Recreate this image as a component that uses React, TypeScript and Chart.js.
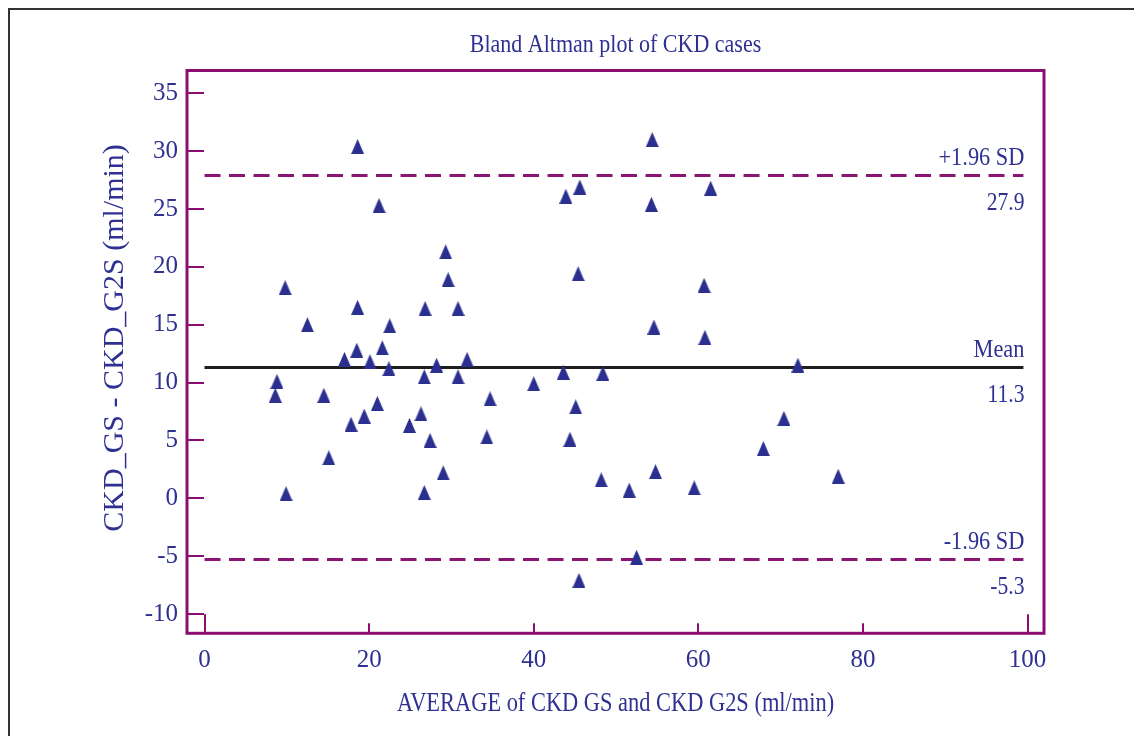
import React, { useEffect, useRef } from 'react';
import { Chart, registerables } from 'chart.js';

Chart.register(...registerables);

// ---- Data ----
const averageValues = [
  8.6, 8.8, 9.8, 9.9, 12.5, 14.5, 15.1, 17.0, 17.8, 18.6,
  18.6, 18.5, 19.4, 20.1, 21.0, 21.2, 21.6, 22.5, 22.4, 24.9,
  26.3, 26.8, 26.7, 26.7, 27.4, 28.2, 29.0, 29.3, 29.6, 30.8,
  30.8, 31.9, 34.7, 34.3, 40.0, 43.6, 43.9, 44.4, 45.1, 45.4,
  45.6, 45.5, 48.4, 48.2, 51.6, 52.5, 54.4, 54.3, 54.6, 54.8,
  59.5, 60.7, 60.8, 61.5, 67.9, 70.4, 72.1, 77.0,
];
const differenceValues = [
  8.9, 10.1, 18.2, 0.4, 15.0, 8.9, 3.5, 12.0, 6.4, 30.4,
  16.5, 12.8, 7.1, 11.8, 8.2, 25.3, 13.0, 14.9, 11.2, 6.3,
  7.3, 16.4, 10.5, 0.5, 5.0, 11.5, 2.2, 21.3, 18.9, 16.4,
  10.5, 12.0, 8.6, 5.3, 9.9, 10.9, 26.1, 5.1, 7.9, 19.4,
  26.9, -7.1, 10.8, 1.6, 0.7, -5.1, 31.0, 25.4, 14.8, 2.3,
  0.9, 18.4, 13.9, 26.8, 4.3, 6.9, 11.5, 1.9,
];
const meanDifference = 11.3;
const upperLimit = 27.9;
const lowerLimit = -5.3;
const limitLineX = [0, 99.5];
const limitValues = [upperLimit, meanDifference, lowerLimit];
const limitNames = ['+1.96 SD', 'Mean', '-1.96 SD'];
const limitTexts = ['27.9', '11.3', '-5.3'];
const longTickValues = [0, 100];

const chartTitle = 'Bland Altman plot of CKD cases';
const xTitle = 'AVERAGE of CKD GS and CKD G2S (ml/min)';
const yTitle = 'CKD_GS - CKD_G2S (ml/min)';

// ---- Styles ----
const TEXT = '#2E3192';
const FRAME = '#8B0D71';
const DASH = '#8B1573';
const FONT = "'Liberation Serif', 'Times New Roman', serif";

function makeTriangle(): HTMLCanvasElement {
  const c = document.createElement('canvas');
  c.width = 13;
  c.height = 15;
  const g = c.getContext('2d')!;
  g.fillStyle = '#2B3090';
  g.beginPath();
  g.moveTo(6.5, 0);
  g.lineTo(13, 15);
  g.lineTo(0, 15);
  g.closePath();
  g.fill();
  return c;
}

// draws text horizontally condensed (the reference uses a narrow serif face)
function condensedText(ctx: CanvasRenderingContext2D, text: string, x: number, y: number, factor: number) {
  const w = ctx.measureText(text).width;
  ctx.fillText(text, x, y, w * factor);
}

const framePlugin = {
  id: 'baFrame',
  afterDatasetsDraw(chart: any) {
    const { ctx, chartArea, scales, height } = chart;
    const { left, right, top, bottom } = chartArea;
    const xs = scales.x;
    const ys = scales.y;
    const cx = (left + right) / 2;
    ctx.save();
    ctx.fillStyle = TEXT;
    ctx.textBaseline = 'alphabetic';

    // chart title
    ctx.font = `25px ${FONT}`;
    ctx.textAlign = 'center';
    condensedText(ctx, chartTitle, cx, top - 19, 0.88);

    // x axis title
    ctx.font = `27px ${FONT}`;
    condensedText(ctx, xTitle, cx, height - 25, 0.83);

    // y axis title
    ctx.save();
    ctx.translate(left - 64, (top + bottom) / 2 - 14);
    ctx.rotate(-Math.PI / 2);
    ctx.font = `30px ${FONT}`;
    ctx.fillText(yTitle, 0, 0);
    ctx.restore();

    // line labels
    ctx.font = `26px ${FONT}`;
    ctx.textAlign = 'right';
    const lx = xs.getPixelForValue(limitLineX[1]) + 1;
    limitValues.forEach((v, i) => {
      const py = ys.getPixelForValue(v);
      condensedText(ctx, limitNames[i], lx, py - 10.5, 0.86);
      condensedText(ctx, limitTexts[i], lx, py + 34.5, 0.83);
    });

    // ticks
    ctx.strokeStyle = FRAME;
    ctx.lineWidth = 2;
    ctx.beginPath();
    ys.ticks.forEach((t: any) => {
      const py = Math.round(ys.getPixelForValue(t.value));
      ctx.moveTo(left, py);
      ctx.lineTo(left + 17, py);
    });
    xs.ticks.forEach((t: any) => {
      const px = Math.round(xs.getPixelForValue(t.value));
      const len = longTickValues.includes(t.value) ? 19 : 10;
      ctx.moveTo(px, bottom);
      ctx.lineTo(px, bottom - len);
    });
    ctx.stroke();
    // frame
    ctx.lineWidth = 3;
    ctx.lineJoin = 'miter';
    ctx.strokeRect(left, top, right - left, bottom - top);
    ctx.restore();
  },
};

export default function App() {
  const ref = useRef<HTMLCanvasElement | null>(null);

  useEffect(() => {
    if (!ref.current) return;
    const tri = makeTriangle();
    const points = averageValues.map((x, i) => ({ x, y: differenceValues[i] }));
    const lineData = (v: number) => limitLineX.map((x) => ({ x, y: v }));

    const chart = new Chart(ref.current, {
      type: 'scatter',
      data: {
        datasets: [
          {
            type: 'scatter',
            label: 'Cases',
            data: points,
            pointStyle: tri as any,
            pointRadius: 7,
            order: 0,
          },
          {
            type: 'line',
            label: 'Mean',
            data: lineData(meanDifference),
            borderColor: '#1E1E1E',
            borderWidth: 3,
            pointRadius: 0,
            fill: false,
            order: 1,
          },
          {
            type: 'line',
            label: '+1.96 SD',
            data: lineData(upperLimit),
            borderColor: DASH,
            borderWidth: 3,
            borderDash: [16, 8.5],
            pointRadius: 0,
            fill: false,
            order: 1,
          },
          {
            type: 'line',
            label: '-1.96 SD',
            data: lineData(lowerLimit),
            borderColor: DASH,
            borderWidth: 3,
            borderDash: [16, 8.5],
            pointRadius: 0,
            fill: false,
            order: 1,
          },
        ],
      },
      options: {
        responsive: false,
        animation: false,
        layout: { padding: { top: 60.5, right: 90, bottom: 0, left: 0 } },
        plugins: {
          legend: { display: false },
          tooltip: { enabled: false },
          title: { display: false },
        },
        scales: {
          x: {
            type: 'linear',
            min: -2.13,
            max: 102,
            grid: { display: false, drawTicks: false },
            border: { display: false },
            ticks: {
              stepSize: 20,
              includeBounds: false,
              color: TEXT,
              font: { family: FONT, size: 25 },
              padding: 12,
              maxRotation: 0,
            },
            title: { display: false },
            afterFit(scale: any) {
              scale.height = 102.7;
            },
          },
          y: {
            type: 'linear',
            min: -11.67,
            max: 36.97,
            grid: { display: false, drawTicks: false },
            border: { display: false },
            ticks: {
              stepSize: 5,
              includeBounds: false,
              color: TEXT,
              font: { family: FONT, size: 25 },
              padding: 9,
            },
            title: { display: false },
            afterFit(scale: any) {
              scale.width = 177;
            },
          },
        },
      },
      plugins: [framePlugin],
    });
    return () => chart.destroy();
  }, []);

  return (
    <div
      style={{
        position: 'absolute',
        left: 8,
        top: 8,
        width: 1126,
        height: 728,
        boxSizing: 'border-box',
        borderTop: '2px solid #333',
        borderLeft: '2px solid #333',
        background: '#fff',
      }}
    >
      <canvas ref={ref} width={1124} height={726} style={{ display: 'block' }} />
    </div>
  );
}
